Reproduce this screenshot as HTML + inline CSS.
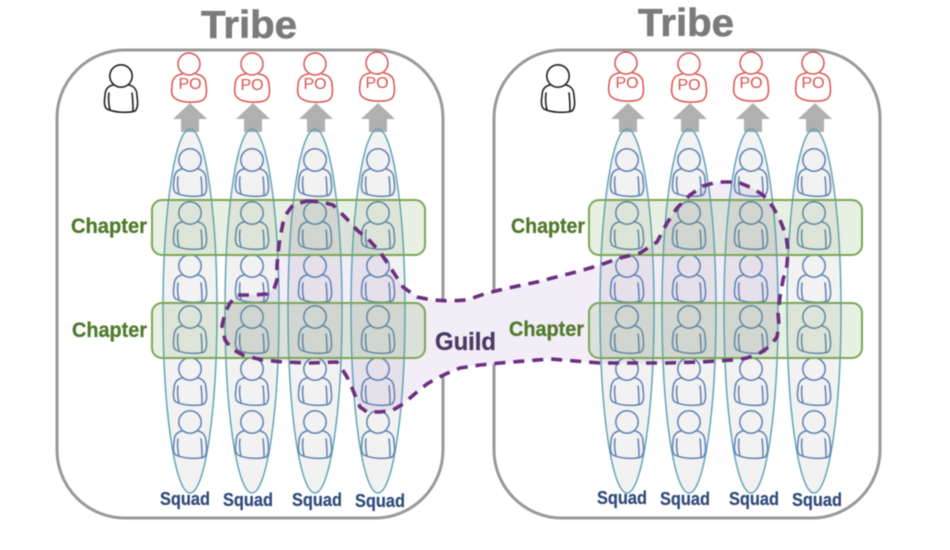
<!DOCTYPE html>
<html>
<head>
<meta charset="utf-8">
<style>
html,body{margin:0;padding:0;background:#fff;width:950px;height:550px;overflow:hidden}
svg{display:block;filter:blur(.45px)}
text{font-family:"Liberation Sans",sans-serif;font-weight:bold;text-anchor:start}
.t{font-size:39px;fill:#7b7b7b;stroke:#7b7b7b;stroke-width:.6}
.c{font-size:21px;fill:#4f7a2a;stroke:#4f7a2a;stroke-width:.25}
.s{font-size:18px;fill:#2f4a7a;stroke:#2f4a7a;stroke-width:.2}
.p{font-size:16px;fill:#d9534f;font-weight:normal;text-anchor:middle}
.e{fill:rgba(0,0,0,.05);stroke:#62a5b9;stroke-width:1.5}
.r{fill:rgba(110,165,90,.17);stroke:#7aa757;stroke-width:2}
.a{fill:#b0b0b0}
</style>
</head>
<body>
<svg width="950" height="550" viewBox="0 0 950 550" xmlns="http://www.w3.org/2000/svg">
<defs>
<g id="m" fill="none" stroke-linecap="round" stroke-linejoin="round">
<circle cx="0" cy="0" r="11.2"/>
<path d="M-8,9 C-13,10 -16,13 -16,20 C-17,26 -17,31 -14,33 C-6,37 8,37 14,35 C17,32 17,27 16,20 C16,14 13,10 8,9"/>
<path d="M-12,17 C-13,24 -12,30 -11,34 M11,17 C12,24 12,30 12,35"/>
</g>
<g id="po" fill="none" stroke-linecap="round" stroke-linejoin="round">
<circle cx="0" cy="0" r="11"/>
<path d="M-7,10 C-13,11 -17,14 -17,22 C-18,28 -17,33 -13,35 C-7,39 9,39 14,36 C18,33 18,27 17,21 C17,14 13,11 7,10"/>
</g>
<g id="arrow"><path class="a" d="M0,-7 L17,9 L9,9 L9,22 L-9,22 L-9,9 L-17,9 Z"/></g>
<g id="col">
<ellipse class="e" cx="0" cy="311" rx="27" ry="182"/>
<g stroke="#5f82b3" stroke-width="1.5">
<use href="#m" x="0" y="160"/><use href="#m" x="0" y="213"/><use href="#m" x="0" y="266"/>
<use href="#m" x="0" y="317"/><use href="#m" x="0" y="369"/><use href="#m" x="0" y="422"/>
</g>
</g>
</defs>

<rect x="57" y="50" width="386" height="468" rx="68" fill="#fff" stroke="#999" stroke-width="3"/>
<rect x="494" y="50" width="386" height="468" rx="68" fill="#fff" stroke="#999" stroke-width="3"/>

<text class="t" x="201" y="38" textLength="96" lengthAdjust="spacingAndGlyphs">Tribe</text>
<text class="t" x="638" y="36" textLength="96" lengthAdjust="spacingAndGlyphs">Tribe</text>

<use href="#arrow" x="190" y="110"/><use href="#arrow" x="253" y="110"/><use href="#arrow" x="316" y="110"/><use href="#arrow" x="378" y="110"/>
<use href="#arrow" x="628" y="110"/><use href="#arrow" x="690" y="110"/><use href="#arrow" x="753" y="110"/><use href="#arrow" x="815" y="110"/>

<path fill="#f2edf6" d="M307,201 L322,202 L333,205 L346,218 L357,230 L370,241 L380,252 L392,270 L403,287 L417,297 L432,300 L450,301 L467,300 L487,293 L513,287 L537,282 L560,276 L580,271 L600,265 L620,258 L640,253 L657,242 L667,223 L677,208 L690,195 L703,186 L717,182 L730,182 L740,183 L752,188 L763,195 L773,207 L780,220 L786,235 L788,250 L787,265 L783,280 L780,297 L778,313 L779,325 L777,337 L770,346 L760,353 L747,358 L733,360 L700,362 L667,363 L633,363 L600,363 L575,361 L550,359 L525,361 L500,363 L480,365 L460,368 L448,373 L437,378 L427,384 L417,392 L410,398 L403,404 L393,410 L380,412 L367,412 L360,407 L357,400 L352,388 L347,377 L342,369 L337,362 L310,363 L283,362 L262,360 L243,355 L232,349 L225,340 L222,326 L225,313 L230,303 L237,295 L252,295 L267,294 L274,289 L277,280 L277,266 L278,253 L280,238 L283,223 L287,213 L293,205 Z"/>

<use href="#col" x="190" y="0"/><use href="#col" x="252" y="0"/><use href="#col" x="315" y="0"/><use href="#col" x="378" y="0"/>
<use href="#col" x="627" y="0"/><use href="#col" x="689" y="0"/><use href="#col" x="751" y="0"/><use href="#col" x="814" y="0"/>

<rect class="r" x="152" y="200" width="273" height="55" rx="10"/>
<rect class="r" x="152" y="303" width="273" height="55" rx="10"/>
<rect class="r" x="589" y="200" width="273" height="55" rx="10"/>
<rect class="r" x="589" y="303" width="273" height="55" rx="10"/>

<path fill="none" stroke="#6c2e80" stroke-width="3.6" stroke-dasharray="11 8" stroke-linejoin="round" d="M307,201 L322,202 L333,205 L346,218 L357,230 L370,241 L380,252 L392,270 L403,287 L417,297 L432,300 L450,301 L467,300 L487,293 L513,287 L537,282 L560,276 L580,271 L600,265 L620,258 L640,253 L657,242 L667,223 L677,208 L690,195 L703,186 L717,182 L730,182 L740,183 L752,188 L763,195 L773,207 L780,220 L786,235 L788,250 L787,265 L783,280 L780,297 L778,313 L779,325 L777,337 L770,346 L760,353 L747,358 L733,360 L700,362 L667,363 L633,363 L600,363 L575,361 L550,359 L525,361 L500,363 L480,365 L460,368 L448,373 L437,378 L427,384 L417,392 L410,398 L403,404 L393,410 L380,412 L367,412 L360,407 L357,400 L352,388 L347,377 L342,369 L337,362 L310,363 L283,362 L262,360 L243,355 L232,349 L225,340 L222,326 L225,313 L230,303 L237,295 L252,295 L267,294 L274,289 L277,280 L277,266 L278,253 L280,238 L283,223 L287,213 L293,205 Z"/>

<g stroke="#222" stroke-width="1.6">
<use href="#m" x="121" y="76"/><use href="#m" x="558" y="76"/>
</g>
<g stroke="#d9534f" stroke-width="1.5">
<use href="#po" x="189" y="64"/><use href="#po" x="252" y="64"/><use href="#po" x="315" y="64"/><use href="#po" x="377" y="63"/>
<use href="#po" x="626" y="63"/><use href="#po" x="689" y="64"/><use href="#po" x="751" y="63"/><use href="#po" x="813" y="63"/>
</g>
<text class="p" x="190" y="89">PO</text><text class="p" x="252" y="90">PO</text><text class="p" x="315" y="89">PO</text><text class="p" x="377" y="88">PO</text>
<text class="p" x="627" y="88">PO</text><text class="p" x="689" y="90">PO</text><text class="p" x="751" y="88">PO</text><text class="p" x="813" y="88">PO</text>

<text class="c" x="71" y="233" textLength="76" lengthAdjust="spacingAndGlyphs">Chapter</text>
<text class="c" x="72" y="337" textLength="75" lengthAdjust="spacingAndGlyphs">Chapter</text>
<text class="c" x="511" y="233" textLength="74" lengthAdjust="spacingAndGlyphs">Chapter</text>
<text class="c" x="509" y="336" textLength="75" lengthAdjust="spacingAndGlyphs">Chapter</text>

<text x="435" y="350" font-size="25" fill="#4a3a66" stroke="#4a3a66" stroke-width=".3" textLength="61" lengthAdjust="spacingAndGlyphs">Guild</text>

<text class="s" x="160" y="505" textLength="50" lengthAdjust="spacingAndGlyphs">Squad</text>
<text class="s" x="223" y="506" textLength="50" lengthAdjust="spacingAndGlyphs">Squad</text>
<text class="s" x="292" y="506" textLength="50" lengthAdjust="spacingAndGlyphs">Squad</text>
<text class="s" x="355" y="507" textLength="50" lengthAdjust="spacingAndGlyphs">Squad</text>
<text class="s" x="597" y="504" textLength="50" lengthAdjust="spacingAndGlyphs">Squad</text>
<text class="s" x="660" y="505" textLength="50" lengthAdjust="spacingAndGlyphs">Squad</text>
<text class="s" x="729" y="505" textLength="50" lengthAdjust="spacingAndGlyphs">Squad</text>
<text class="s" x="792" y="506" textLength="50" lengthAdjust="spacingAndGlyphs">Squad</text>
</svg>
</body>
</html>
